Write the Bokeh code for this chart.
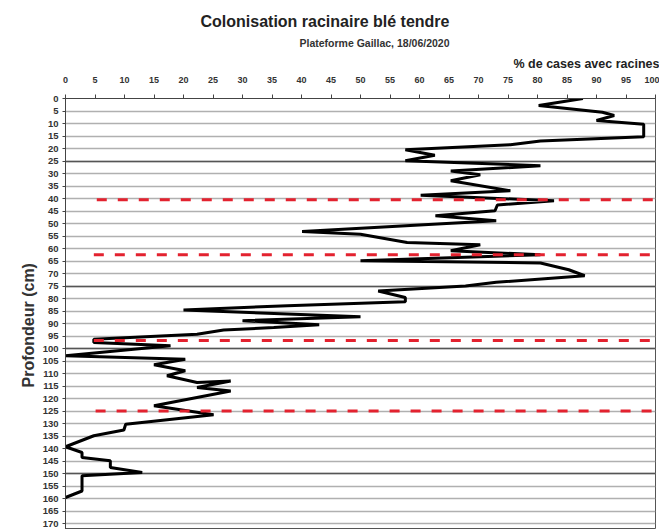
from bokeh.plotting import figure
from bokeh.models import Range1d, FixedTicker, Grid, Title
from bokeh.embed import file_html
from bokeh.resources import INLINE

# ---- data ----
depth = [0, 2.8, 5.5, 6.8, 8.8, 10.3, 15.3, 17.0, 18.5, 20.5, 22.7, 24.9, 26.9, 29.0, 30.5,
         32.9, 36.9, 38.7, 40.9, 42.6, 44.9, 46.9, 48.9, 53.2, 54.3, 57.6, 58.5, 60.9, 62.5,
         64.9, 65.8, 68.5, 70.9, 73.5, 75.0, 77.0, 79.6, 81.3, 82.9, 84.6, 87.3, 88.9, 90.5,
         91.6, 92.6, 94.3, 96.3, 97.6, 98.9, 102.9, 104.3, 106.5, 108.9, 110.9, 113.6, 113.0,
         115.6, 117.0, 122.9, 126.5, 130.3, 132.6, 134.9, 139.3, 141.6, 143.6, 144.9, 147.6,
         149.6, 150.9, 157.0, 159.6]
pct = [87.7, 80.2, 91.0, 93.0, 90.0, 98.0, 98.0, 80.5, 75.4, 57.6, 62.6, 57.6, 80.5, 65.3, 70.3,
       65.3, 75.4, 60.2, 82.8, 73.2, 72.8, 62.7, 73.0, 40.1, 50.0, 57.9, 70.3, 65.3, 80.5,
       50.0, 80.5, 85.3, 88.0, 73.0, 67.8, 53.0, 57.6, 57.6, 37.6, 20.0, 50.0, 30.0, 43.0,
       35.3, 26.8, 22.3, 4.8, 4.8, 17.8, 0.0, 20.3, 15.0, 20.3, 17.2, 22.3, 28.0,
       22.3, 28.0, 15.0, 25.1, 10.2, 9.9, 4.8, 0.0, 2.8, 2.8, 7.6, 7.6,
       13.0, 2.8, 2.8, 0.0]

red_depths = [40.5, 62.5, 96.8, 125.0]
red_start = [5.3, 4.8, 4.8, 5.1]
red_end = [100, 100, 100, 100]

x_ticks = list(range(0, 101, 5))
y_ticks = list(range(0, 171, 5))
dark_grid = [25, 75, 100, 150]

title_text = "Colonisation racinaire blé tendre"
subtitle_text = "Plateforme Gaillac, 18/06/2020"
x_label = "% de cases avec racines"
y_label = "Profondeur (cm)"

FONT = "Liberation Sans"

p = figure(width=659, height=529, output_backend="svg", toolbar_location=None,
           x_range=Range1d(0, 100), y_range=Range1d(172.4, 0),
           x_axis_location="above", min_border_left=65, min_border_right=4,
           min_border_top=98, min_border_bottom=0)
p.background_fill_color = "white"
p.border_fill_color = "white"
p.outline_line_color = "#555555"
p.outline_line_width = 1

# axes
xa = p.xaxis[0]
xa.ticker = FixedTicker(ticks=x_ticks)
xa.major_label_text_font = FONT
xa.major_label_text_font_size = "9px"
xa.major_label_text_font_style = "bold"
xa.major_label_text_color = "#333333"
xa.major_tick_out = 4
xa.major_tick_in = 0
xa.minor_tick_out = 0
xa.minor_tick_in = 0
xa.major_label_standoff = 12
xa.axis_line_color = "#444444"
xa.major_tick_line_color = "#444444"

ya = p.yaxis[0]
ya.ticker = FixedTicker(ticks=y_ticks)
ya.major_label_text_font = FONT
ya.major_label_text_font_size = "9.5px"
ya.major_label_text_font_style = "bold"
ya.major_label_text_color = "#333333"
ya.major_tick_out = 3
ya.major_tick_in = 0
ya.minor_tick_out = 0
ya.minor_tick_in = 0
ya.major_label_standoff = 4
ya.axis_line_color = "#444444"
ya.major_tick_line_color = "#444444"

p.xgrid.visible = False
p.ygrid.ticker = FixedTicker(ticks=y_ticks)
p.ygrid.grid_line_color = "#b0b0b0"
p.ygrid.grid_line_width = 1.7

g2 = Grid(dimension=1, ticker=FixedTicker(ticks=dark_grid),
          grid_line_color="#555555", grid_line_width=1.7)
p.add_layout(g2, "center")

# data line
p.line(pct, depth, line_color="black", line_width=3)

# red dashed lines
p.segment(x0=red_start, y0=red_depths, x1=red_end, y1=red_depths,
          line_color="#e3222f", line_width=3.2, line_dash="10 11")

# texts (stacked outward from the frame)
p.add_layout(Title(text=x_label, text_font=FONT, text_font_size="12.5px",
                   text_font_style="bold", align="left", offset=448, standoff=6,
                   text_color="#222222"), "above")
p.add_layout(Title(text=subtitle_text, text_font=FONT, text_font_size="10.5px",
                   text_font_style="bold", align="left", offset=234, standoff=6,
                   text_color="#333333"), "above")
p.add_layout(Title(text=title_text, text_font=FONT, text_font_size="16px",
                   text_font_style="bold", align="left", offset=135, standoff=4,
                   text_color="#222222"), "above")
p.add_layout(Title(text=y_label, text_font=FONT, text_font_size="16px",
                   text_font_style="bold", align="left", offset=142, standoff=6,
                   text_color="#333333"), "left")

open("out.html", "w").write(file_html(p, INLINE))
